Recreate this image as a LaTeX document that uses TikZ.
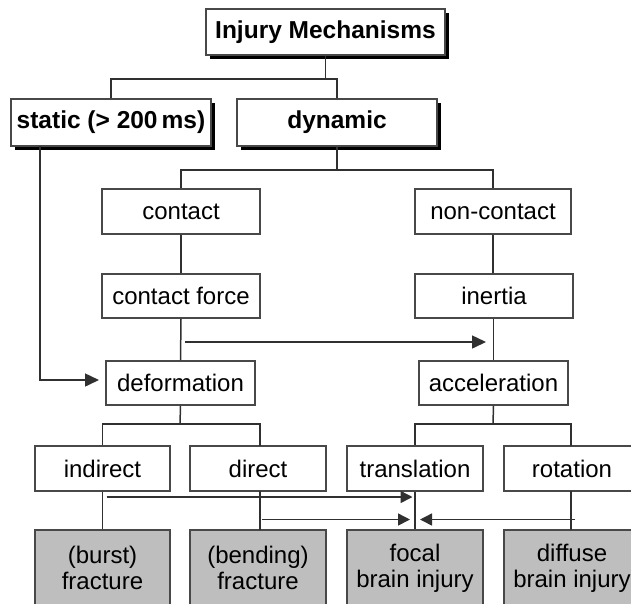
\documentclass[tikz,border=0pt]{standalone}
\usepackage{fontspec}
\setmainfont{Liberation Sans}
\usetikzlibrary{arrows.meta,shadows}
\definecolor{linec}{HTML}{303030}
\definecolor{boxc}{HTML}{484848}
\definecolor{grayfill}{HTML}{BEBEBE}
\tikzset{
  box/.style={draw=boxc, line width=1.6pt, fill=white, inner sep=0pt, align=center,
    font=\fontsize{24}{26}\selectfont},
  topbox/.style={box, font=\fontsize{24.5}{26}\selectfont\bfseries,
    drop shadow={opacity=1, fill=black, shadow xshift=3.5pt, shadow yshift=-3.5pt}},
  leafbox/.style={box, fill=grayfill},
  conn/.style={draw=linec, line width=1.5pt},
  arr/.style={conn, -{Triangle[length=14pt,width=13pt]}},
  arrs/.style={conn, -{Triangle[length=12pt,width=12pt]}}
}
\begin{document}
\begin{tikzpicture}[x=1pt,y=-1pt]
\useasboundingbox (0,0) rectangle (631,603);
\clip (0,0) rectangle (631,603);
% top level
\node[topbox, minimum width=239pt, minimum height=46pt] (im) at (325.5,32) {Injury Mechanisms};
\node[topbox, minimum width=200pt, minimum height=47pt] (static) at (111,122.5) {static (> 200\,ms)};
\node[topbox, minimum width=200pt, minimum height=47pt] (dyn) at (337,122.5) {dynamic};
% second level
\node[box, minimum width=158pt, minimum height=45pt] (contact) at (181,211.5) {contact};
\node[box, minimum width=156pt, minimum height=45pt] (noncontact) at (493,211.5) {non-contact};
\node[box, minimum width=158pt, minimum height=44pt] (cforce) at (181,296) {contact force};
\node[box, minimum width=158pt, minimum height=44pt] (inertia) at (494,296) {inertia};
\node[box, minimum width=149pt, minimum height=44pt] (deform) at (180.5,383) {deformation};
\node[box, minimum width=149pt, minimum height=44pt] (accel) at (493.5,383) {acceleration};
% third level
\node[box, minimum width=135pt, minimum height=45pt] (indirect) at (102.5,468.5) {indirect};
\node[box, minimum width=136pt, minimum height=45pt] (direct) at (258,468.5) {direct};
\node[box, minimum width=136pt, minimum height=45pt] (transl) at (415,468.5) {translation};
\node[box, minimum width=136pt, minimum height=45pt] (rot) at (572,468.5) {rotation};
% leaves
\node[leafbox, minimum width=135pt, minimum height=76pt] (burst) at (102.5,568) {(burst)\\fracture};
\node[leafbox, minimum width=136pt, minimum height=76pt] (bending) at (258,568) {(bending)\\fracture};
\node[leafbox, minimum width=136pt, minimum height=76pt] (focal) at (415,568) {focal\\brain injury};
\node[leafbox, minimum width=136pt, minimum height=76pt] (diffuse) at (572,568) {diffuse\\brain injury};
% junctions
\coordinate (j1) at (326,79);
\coordinate (j2) at (337,170);
\coordinate (j3) at (180,424);
\coordinate (j4) at (493,424);
\draw[conn] (im.south) -- (im.south |- j1);
\draw[conn] (static.north) |- (j1) -| (dyn.north);
\draw[conn] (dyn.south) -- (j2);
\draw[conn] (contact.north) |- (j2) -| (noncontact.north);
\draw[conn] (contact.south) -- (cforce.north);
\draw[conn] (cforce.south) -- (deform.north);
\draw[conn] (noncontact.south) -- (noncontact.south |- inertia.north);
\draw[conn] (inertia.south -| accel.north) -- (accel.north);
\draw[conn] (deform.south) -- (j3);
\draw[conn] (indirect.north) |- (j3) -| (260,446);
\draw[conn] (accel.south) -- (j4);
\draw[conn] (transl.north) |- (j4) -| (571,446);
\draw[conn] (indirect.south) -- (burst.north);
\draw[conn] (260,491) -- (260,530);
\draw[conn] (transl.south) -- (focal.north);
\draw[conn] (571,491) -- (571,530);
% arrows
\coordinate (s0) at (40,146);
\coordinate (s1) at (99,380);
\draw[arr] (s0) |- (s1);
\coordinate (c0) at (185,342);
\coordinate (c1) at (486,342);
\draw[arr] (c0) -- (c1);
\coordinate (a0) at (106.5,497);
\coordinate (a1) at (412.5,497);
\draw[arrs] (a0) -- (a1);
\coordinate (b0) at (262,519.5);
\coordinate (b1) at (410,519.5);
\draw[arrs] (b0) -- (b1);
\coordinate (r0) at (575,519.5);
\coordinate (r1) at (420,519.5);
\draw[arrs] (r0) -- (r1);
\end{tikzpicture}
\end{document}
